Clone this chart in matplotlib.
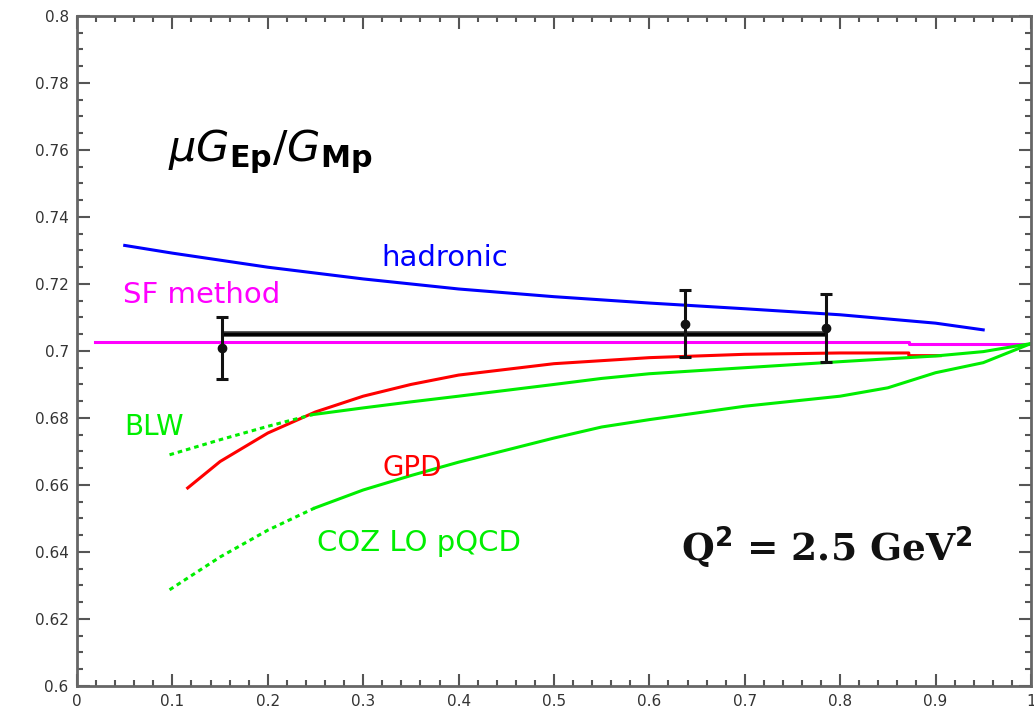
import matplotlib.pyplot as plt
from matplotlib.ticker import MultipleLocator, FuncFormatter

# hadronic model
had_x = [0.05, 0.1, 0.2, 0.3, 0.4, 0.5, 0.6, 0.7, 0.8, 0.9, 0.95]
had_y = [0.7315, 0.7292, 0.7250, 0.7215, 0.7185, 0.7162, 0.7143, 0.7126, 0.7108, 0.7083, 0.7063]

# SF method
sf_x = [0.019, 0.872, 0.872, 1.0]
sf_y = [0.7027, 0.7027, 0.7021, 0.7021]

# GPD
gpd_x = [0.116, 0.15, 0.2, 0.25, 0.3, 0.35, 0.4, 0.5, 0.6, 0.7, 0.8, 0.872, 0.872, 0.905]
gpd_y = [0.6591, 0.6670, 0.6755, 0.6818, 0.6865, 0.6900, 0.6928, 0.6962, 0.6980, 0.6990, 0.6994, 0.6994, 0.6986, 0.6986]

# BLW (dotted part below x ~ 0.25)
blw_dot_x = [0.097, 0.15, 0.2, 0.247]
blw_dot_y = [0.6690, 0.6735, 0.6775, 0.6810]
blw_x = [0.247, 0.3, 0.35, 0.4, 0.5, 0.55, 0.6, 0.7, 0.8, 0.9, 0.95, 1.0]
blw_y = [0.6810, 0.6830, 0.6848, 0.6865, 0.6900, 0.6918, 0.6932, 0.6950, 0.6968, 0.6985, 0.6998, 0.7022]

# COZ LO pQCD (dotted part below x ~ 0.25)
coz_dot_x = [0.097, 0.15, 0.2, 0.249]
coz_dot_y = [0.6287, 0.6385, 0.6465, 0.6531]
coz_x = [0.249, 0.3, 0.35, 0.4, 0.5, 0.55, 0.6, 0.7, 0.8, 0.85, 0.9, 0.95, 1.0]
coz_y = [0.6531, 0.6585, 0.6628, 0.6668, 0.6740, 0.6773, 0.6795, 0.6835, 0.6865, 0.6890, 0.6935, 0.6965, 0.7022]

# measured points
pts_x = [0.152, 0.637, 0.785]
pts_y = [0.7008, 0.7081, 0.7069]
pts_err = [0.0092, 0.0100, 0.0102]

# averaged result band
band_x = [0.152, 0.785]
band_y = 0.7051

fig = plt.figure(figsize=(10.34, 7.09), dpi=100)
ax = fig.add_axes([0.0745, 0.0325, 0.9225, 0.945])

ax.plot(had_x, had_y, color='#0000ff', lw=2.2)
ax.plot(sf_x, sf_y, color='#ff00ff', lw=2.2)
ax.plot(gpd_x, gpd_y, color='#ff0000', lw=2.2)
ax.plot(blw_x, blw_y, color='#00ee00', lw=2.2)
ax.plot(blw_dot_x, blw_dot_y, color='#00ee00', lw=2.2, dashes=(1.5, 1.3))
ax.plot(coz_x, coz_y, color='#00ee00', lw=2.2)
ax.plot(coz_dot_x, coz_dot_y, color='#00ee00', lw=2.2, dashes=(1.5, 1.3))

ax.hlines(band_y, band_x[0], band_x[1], color='#333333', lw=4.0)
ax.hlines(band_y, band_x[0], band_x[1], color='black', lw=2.0)
ax.errorbar(pts_x, pts_y, yerr=pts_err, fmt='o', color='#111111', ms=6,
            elinewidth=2.2, capsize=4.5, capthick=2.2)

# labels
ax.text(0.385, 0.7278, 'hadronic', color='#0000ff', fontsize=21, va='center', ha='center')
ax.text(0.048, 0.7167, 'SF method', color='#ff00ff', fontsize=21, va='center')
ax.text(0.05, 0.6773, 'BLW', color='#00ee00', fontsize=20, va='center')
ax.text(0.32, 0.6652, 'GPD', color='#ff0000', fontsize=20, va='center')
ax.text(0.252, 0.6427, 'COZ LO pQCD', color='#00ee00', fontsize=21, va='center')
ax.text(0.633, 0.6412, r'Q$^{\mathbf{2}}$ = 2.5 GeV$^{\mathbf{2}}$', color='#111111',
        fontsize=27, fontweight='bold', family='DejaVu Serif', va='center')
ax.text(0.095, 0.7595, r'$\mu G_{\mathbf{Ep}}/G_{\mathbf{Mp}}$', color='black',
        fontsize=31, va='center')

ax.set_xlim(0, 1)
ax.set_ylim(0.6, 0.8)
ax.xaxis.set_major_locator(MultipleLocator(0.1))
ax.xaxis.set_minor_locator(MultipleLocator(0.02))
ax.yaxis.set_major_locator(MultipleLocator(0.02))
ax.yaxis.set_minor_locator(MultipleLocator(0.005))
fmt = FuncFormatter(lambda v, p: '%g' % round(v, 3))
ax.xaxis.set_major_formatter(fmt)
ax.yaxis.set_major_formatter(fmt)

ax.tick_params(which='both', direction='in', top=True, right=True,
               color='#555555', labelsize=11, labelcolor='#333333')
ax.tick_params(which='major', length=9, width=1.5, pad=6)
ax.tick_params(which='minor', length=4.5, width=1.5)
for s in ax.spines.values():
    s.set_color('#666666')
    s.set_linewidth(2)

fig.savefig('out.png', dpi=100)
